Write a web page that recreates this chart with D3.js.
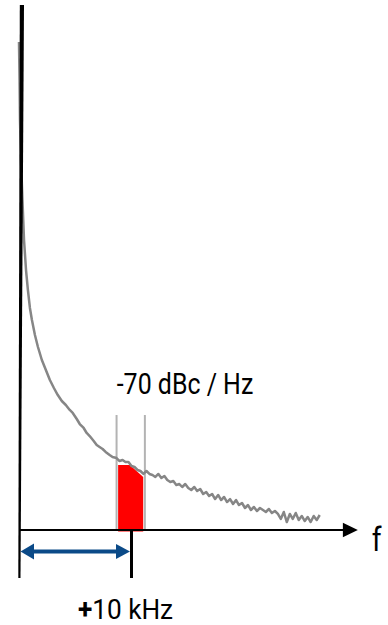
<!DOCTYPE html>
<html>
<head>
<meta charset="utf-8">
<script src="https://cdn.jsdelivr.net/npm/d3@7"></script>
<style>
  body { margin: 0; background: #fff; }
  svg { display: block; }
  text { font-family: "Roboto", "Liberation Sans", sans-serif; fill: #000; }
</style>
</head>
<body>
<svg></svg>
<script>
var screen = {width:388, height:625}

// frequency offset from carrier (kHz) and relative noise level (0..100)
var noiseFreq = [-0.09,-0.04,0,0.09,0.22,0.36,0.54,0.71,0.89,1.07,1.34,1.61,1.96,2.32,2.68,3.04,3.39,3.75,4.11,4.46,
  4.73,5.09,5.36,5.71,5.98,6.25,6.61,6.88,7.14,7.41,7.68,8.04,8.30,8.66,8.93,9.20,9.46,9.73,10.0,10.27,
  10.54,10.80,11.07,11.34,11.61,11.88,12.14,12.41,12.68,12.95,13.21,13.48,13.75,14.02,14.29,14.55,14.82,15.09,15.36,15.63,
  15.89,16.16,16.43,16.70,16.96,17.23,17.50,17.77,18.04,18.30,18.57,18.84,19.11,19.38,19.64,19.91,20.18,20.45,20.71,20.98,
  21.25,21.52,21.79,22.05,22.32,22.59,22.86,23.13,23.39,23.66,23.93,24.20,24.46,24.73,25.0,25.27,25.54,25.80,26.07,26.34,
  26.61,26.88]
var noiseLevel = [92.95,85.71,78.10,70.48,62.86,55.24,49.52,45.71,42.29,40.0,37.14,34.86,32.38,30.48,28.57,27.05,25.71,24.57,23.81,22.86,
  22.29,21.14,20.19,19.43,18.48,17.90,16.95,16.19,15.81,15.43,14.86,14.29,13.90,13.71,13.14,13.33,12.95,12.95,12.19,12.0,
  11.43,11.24,10.67,11.24,10.67,10.48,10.10,10.67,9.90,10.29,9.52,9.14,9.33,8.57,8.76,8.19,8.76,8.0,7.62,8.19,
  7.43,7.81,6.86,7.24,6.48,6.86,5.90,6.67,5.71,6.29,5.33,5.90,4.95,5.71,4.76,5.14,4.19,4.76,3.81,4.38,
  3.62,4.19,3.81,3.43,4.0,3.24,3.62,3.05,2.10,3.43,1.52,3.05,2.10,3.24,1.90,2.67,1.71,2.48,1.52,2.67,
  1.90,2.86]

// 1 Hz measurement bandwidth around the 10 kHz offset
var bandEdges = [8.66, 11.2]
var bandTop = 21.9
var bandFreq = [8.8, 8.8, 9.85, 11.05, 11.05]
var bandLevel = [-0.3, 12.4, 12.4, 10.1, -0.3]

var offsetTick = 10
var axisEnd = 30.3
var levelLabel = "-70 dBc / Hz"
var offsetLabel = "10 kHz"

var svg = d3.select("svg")
  .attr("width", screen.width)
  .attr("height", screen.height)

var xScale = d3.scaleLinear()
  .domain([0, 10])
  .range([20, 131.5])

var yScale = d3.scaleLinear()
  .domain([0, 100])
  .range([530, 5])

var below = 578 // bottom of the tick lines

//red filled slice
var band = bandFreq.map(function(f, i){ return [f, bandLevel[i]] })
svg.append("path")
  .attr("d", d3.line().x(function(d){return xScale(d[0])}).y(function(d){return yScale(d[1])})(band) + "Z")
  .attr("fill", "#ff0000")

//gray bandwidth markers
svg.selectAll(".edge")
  .data(bandEdges)
  .enter()
  .append("line")
  .attr("class", "edge")
  .attr("x1", function(d){return xScale(d)})
  .attr("x2", function(d){return xScale(d)})
  .attr("y1", yScale(bandTop))
  .attr("y2", yScale(0))
  .attr("stroke", "#b3b3b3")
  .attr("stroke-width", 2)

//noise curve
var noise = noiseFreq.map(function(f, i){ return [f, noiseLevel[i]] })
svg.append("path")
  .attr("d", d3.line().x(function(d){return xScale(d[0])}).y(function(d){return yScale(d[1])})(noise))
  .attr("fill", "none")
  .attr("stroke", "#868686")
  .attr("stroke-width", 2.5)
  .attr("stroke-linejoin", "round")

//vertical axis, a bit thicker at the top
var x0 = xScale(0)
svg.append("path")
  .attr("d", "M" + (x0 - 0.2) + "," + yScale(100) + "L" + (x0 + 4) + "," + yScale(100)
    + "L" + (x0 + 0.5) + "," + below + "L" + (x0 - 1.7) + "," + below + "Z")
  .attr("fill", "#000")

//horizontal axis with arrow
svg.append("line")
  .attr("x1", x0 - 1)
  .attr("x2", xScale(axisEnd) - 14)
  .attr("y1", yScale(0))
  .attr("y2", yScale(0))
  .attr("stroke", "#000")
  .attr("stroke-width", 2.2)
svg.append("path")
  .attr("d", "M" + xScale(axisEnd) + "," + yScale(0) + "l-15,-7.3l0,14.6Z")
  .attr("fill", "#000")

svg.append("text")
  .attr("transform", "translate(" + (xScale(axisEnd) + 14) + ",551) scale(0.85,1)")
  .style("font-size", "33px")
  .text("f")

//10 kHz tick
svg.append("line")
  .attr("x1", xScale(offsetTick))
  .attr("x2", xScale(offsetTick))
  .attr("y1", yScale(0))
  .attr("y2", below)
  .attr("stroke", "#000")
  .attr("stroke-width", 3)

//double arrow from carrier to offset
var arrowY = 551.5
var blue = "#0b4a88"
svg.append("line")
  .attr("x1", x0 + 10)
  .attr("x2", xScale(offsetTick) - 12)
  .attr("y1", arrowY)
  .attr("y2", arrowY)
  .attr("stroke", blue)
  .attr("stroke-width", 4)
svg.append("path")
  .attr("d", "M" + (x0 + 0.5) + "," + arrowY + "l13.5,-8l0,16Z")
  .attr("fill", blue)
svg.append("path")
  .attr("d", "M" + (xScale(offsetTick) - 1.5) + "," + arrowY + "l-14,-7.5l0,15Z")
  .attr("fill", blue)

//labels
svg.append("text")
  .attr("transform", "translate(185,394) scale(0.86,1)")
  .attr("text-anchor", "middle")
  .style("font-size", "29px")
  .text(levelLabel)

var lab = svg.append("text")
  .attr("transform", "translate(125.5,619) scale(0.92,1)")
  .attr("text-anchor", "middle")
  .style("font-size", "28.5px")
lab.append("tspan").style("font-weight", "bold").text("+")
lab.append("tspan").text(offsetLabel)
</script>
</body>
</html>
